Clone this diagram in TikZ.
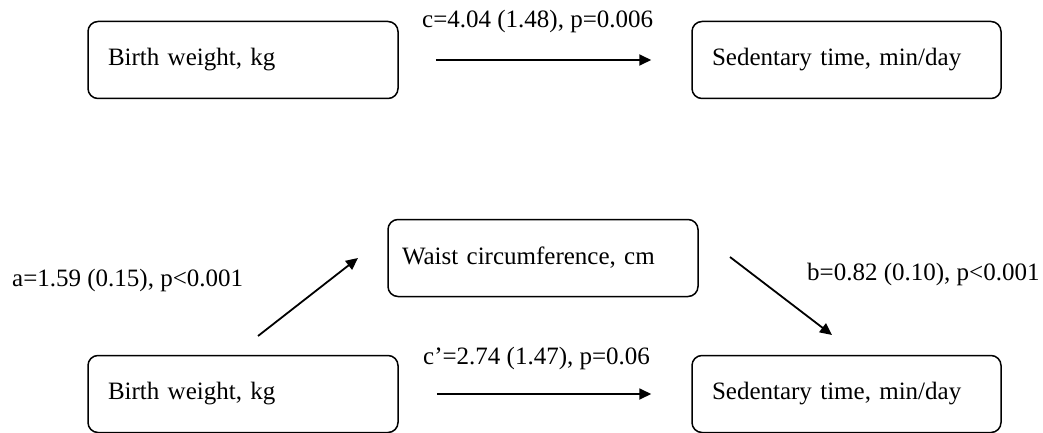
\documentclass[tikz,border=0pt]{standalone}
\usepackage{fontspec}
\setmainfont{Liberation Serif}
\usetikzlibrary{arrows.meta}
\begin{document}
\begin{tikzpicture}[x=1pt,y=-1pt,
  box/.style={draw, line width=1.5pt, rounded corners=10pt, minimum width=310pt,
    minimum height=77pt, inner xsep=20pt, inner ysep=0pt, text width=270pt, align=left,
    font=\fontsize{25}{30}\selectfont},
  arr/.style={-{Triangle[length=12pt,width=11pt]}, line width=1.8pt},
  lab/.style={font=\fontsize{25}{30}\selectfont, inner sep=0pt, anchor=base west}]
\useasboundingbox (0,0) rectangle (1043,433);
% top model
\node[box] (bw1) at (243,60) {Birth weight, kg};
\node[box, minimum width=309pt, text width=269pt] (st1) at (846.5,60) {Sedentary time, min/day};
\node[lab] (lc) at (422,28) {c=4.04 (1.48), p=0.006};
\draw[arr, shorten <=37pt, shorten >=40pt] (bw1) -- (st1);
% mediation model
\node[box, inner xsep=14pt, text width=282pt] (wc) at (543,258) {Waist circumference, cm};
\node[box] (bw2) at (243,394) {Birth weight, kg};
\node[box, minimum width=309pt, text width=269pt] (st2) at (846.5,394) {Sedentary time, min/day};
\node[lab] (la) at (12,286) {a=1.59 (0.15), p<0.001};
\node[lab] (lb) at (807,280) {b=0.82 (0.10), p<0.001};
\node[lab] (lcp) at (423,364) {c’=2.74 (1.47), p=0.06};
\coordinate (a1) at (258,336);
\coordinate (a2) at (358,258);
\coordinate (b1) at (730,257);
\coordinate (b2) at (832,335);
\draw[arr] (a1) -- (a2);
\draw[arr] (b1) -- (b2);
\draw[arr, shorten <=38pt, shorten >=40pt] (bw2) -- (st2);
\end{tikzpicture}
\end{document}
